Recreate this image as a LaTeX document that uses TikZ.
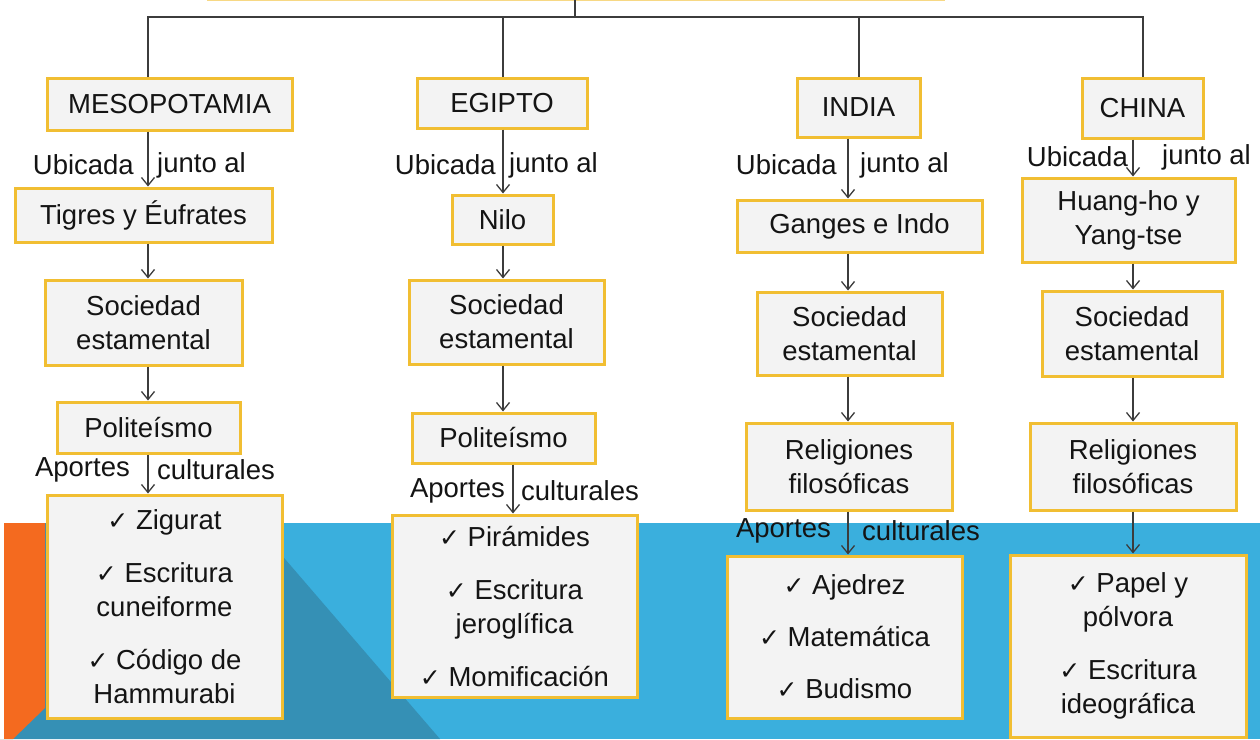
\documentclass[tikz,border=0pt]{standalone}
\usepackage{fontspec}
\setmainfont{Liberation Sans}
\newfontfamily\symfont{DejaVu Sans}
\usetikzlibrary{arrows.meta}
\definecolor{gold}{HTML}{F1BE32}
\definecolor{boxgray}{HTML}{F3F3F3}
\definecolor{bandblue}{HTML}{3AAFDD}
\definecolor{darkblue}{HTML}{3590B5}
\definecolor{bandorange}{HTML}{F46A1F}
\definecolor{linegray}{HTML}{3C3C3C}
\definecolor{txt}{HTML}{141414}
\newcommand{\ck}{{\symfont\fontsize{25}{25}\selectfont ✓}\ }
\begin{document}
\begin{tikzpicture}[x=1pt,y=-1pt,
  every node/.style={font=\fontsize{27.5}{34}\selectfont, text=txt},
  cbox/.style={draw=gold, line width=3pt, fill=boxgray, align=center, inner sep=0pt},
  lbl/.style={inner sep=0pt},
  arr/.style={draw=linegray, line width=1.3pt, -{Straight Barb[length=8pt,width=13pt,line width=1.3pt]}},
  conn/.style={draw=linegray, line width=1.5pt}]
\useasboundingbox (0,0) rectangle (1260,739);
% background
\fill[white] (0,0) rectangle (1260,739);
\fill[bandblue] (0,523) rectangle (1260,739);
\fill[darkblue] (45,523) -- (254,523) -- (440,739) -- (0,739) -- cycle;
\fill[bandorange] (0,523) -- (45,523) -- (45,708) -- (13,739) -- (0,739) -- cycle;
\fill[white] (0,523) rectangle (4,739);
% partial root box edge
\draw[gold!60, line width=1.5pt] (207,0.5) -- (945,0.5);

% column x positions of connectors
\coordinate (x1) at (148,0);
\coordinate (x2) at (503,0);
\coordinate (x2b) at (513,0);
\coordinate (x3) at (848,0);
\coordinate (x3t) at (859,0);
\coordinate (x4) at (1133,0);
\coordinate (x4t) at (1143,0);

% column 1
\node[cbox, minimum width=245, minimum height=52] (meso) at (169.5,104) {MESOPOTAMIA};
\node[cbox, minimum width=257, minimum height=54] (tig) at (143.5,215) {Tigres y Éufrates};
\node[cbox, minimum width=197, minimum height=85] (soc1) at (143.5,322.5) {Sociedad\\estamental};
\node[cbox, minimum width=183, minimum height=51] (pol1) at (148.5,427.5) {Politeísmo};
\node[cbox, minimum width=235, minimum height=223] (list1) at (164.5,606.5) {\ck Zigurat\\[19pt]\ck Escritura\\cuneiforme\\[19pt]\ck Código de\\Hammurabi};
\node[lbl, anchor=east] (u1) at (134,165) {Ubicada};
\node[lbl, anchor=west] (j1) at (157,165) {junto al};
\node[lbl, anchor=east] (a1) at (130,470) {Aportes};
\node[lbl, anchor=west] (c1) at (157,470) {culturales};

% column 2
\node[cbox, minimum width=170, minimum height=50] (egipto) at (502,103) {EGIPTO};
\node[cbox, minimum width=101, minimum height=49] (nilo) at (502.5,219.5) {Nilo};
\node[cbox, minimum width=195, minimum height=84] (soc2) at (506.5,322) {Sociedad\\estamental};
\node[cbox, minimum width=183, minimum height=50] (pol2) at (503.5,438) {Politeísmo};
\node[cbox, minimum width=245, minimum height=182] (list2) at (514.5,606) {\ck Pirámides\\[19pt]\ck Escritura\\jeroglífica\\[19pt]\ck Momificación};
\node[lbl, anchor=east] (u2) at (496,165) {Ubicada};
\node[lbl, anchor=west] (j2) at (509,165) {junto al};
\node[lbl, anchor=east] (a2) at (505,491) {Aportes};
\node[lbl, anchor=west] (c2) at (521,491) {culturales};

% column 3
\node[cbox, minimum width=123, minimum height=59] (india) at (858.5,107.5) {INDIA};
\node[cbox, minimum width=245, minimum height=52] (ganges) at (859.5,226) {Ganges e Indo};
\node[cbox, minimum width=185, minimum height=83] (soc3) at (849.5,333.5) {Sociedad\\estamental};
\node[cbox, minimum width=206, minimum height=87] (rel3) at (849,466.5) {Religiones\\filosóficas};
\node[cbox, minimum width=235, minimum height=162] (list3) at (844.5,637) {\ck Ajedrez\\[18pt]\ck Matemática\\[18pt]\ck Budismo};
\node[lbl, anchor=east] (u3) at (837,165) {Ubicada};
\node[lbl, anchor=west] (j3) at (860,165) {junto al};
\node[lbl, anchor=east] (a3) at (831,531) {Aportes};
\node[lbl, anchor=west] (c3) at (862,531) {culturales};

% column 4
\node[cbox, minimum width=121, minimum height=60] (china) at (1142.5,108) {CHINA};
\node[cbox, minimum width=213, minimum height=84] (huang) at (1128.5,220) {Huang-ho y\\Yang-tse};
\node[cbox, minimum width=180, minimum height=85] (soc4) at (1132,333.5) {Sociedad\\estamental};
\node[cbox, minimum width=206, minimum height=87] (rel4) at (1133,466.5) {Religiones\\filosóficas};
\node[cbox, minimum width=236, minimum height=182] (list4) at (1128,646) {\ck Papel y\\pólvora\\[19pt]\ck Escritura\\ideográfica};
\node[lbl, anchor=east] (u4) at (1128,157) {Ubicada};
\node[lbl, anchor=west] (j4) at (1162,157) {junto al};

% top connectors
\coordinate (top) at (575,0);
\coordinate (hl) at (575,17);
\draw[conn] (top) -- (hl);
\draw[conn] (meso.north -| x1) -- (hl -| x1) -- (hl -| x4t) -- (china.north -| x4t);
\draw[conn] (egipto.north -| x2) -- (hl -| x2);
\draw[conn] (india.north -| x3t) -- (hl -| x3t);

% arrows column 1
\draw[arr] (meso.south -| x1) -- (tig.north -| x1);
\draw[arr] (tig.south -| x1) -- (soc1.north -| x1);
\draw[arr] (soc1.south -| x1) -- (pol1.north -| x1);
\draw[arr] (pol1.south -| x1) -- (list1.north -| x1);
% arrows column 2
\draw[arr] (egipto.south -| x2) -- (nilo.north -| x2);
\draw[arr] (nilo.south -| x2) -- (soc2.north -| x2);
\draw[arr] (soc2.south -| x2) -- (pol2.north -| x2);
\draw[arr] (pol2.south -| x2b) -- (list2.north -| x2b);
% arrows column 3
\draw[arr] (india.south -| x3) -- (ganges.north -| x3);
\draw[arr] (ganges.south -| x3) -- (soc3.north -| x3);
\draw[arr] (soc3.south -| x3) -- (rel3.north -| x3);
\draw[arr] (rel3.south -| x3) -- (list3.north -| x3);
% arrows column 4
\draw[arr] (china.south -| x4) -- (huang.north -| x4);
\draw[arr] (huang.south -| x4) -- (soc4.north -| x4);
\draw[arr] (soc4.south -| x4) -- (rel4.north -| x4);
\draw[arr] (rel4.south -| x4) -- (list4.north -| x4);
\end{tikzpicture}
\end{document}
